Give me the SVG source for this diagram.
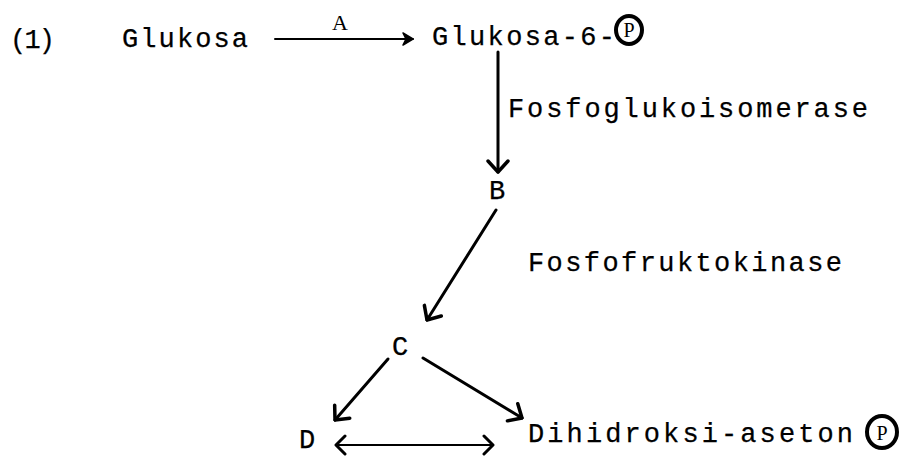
<svg xmlns="http://www.w3.org/2000/svg" width="903" height="457" viewBox="0 0 903 457">
<style>
  .t { font-family: "Liberation Mono", "Courier New", monospace; font-size: 27px; fill: #000; stroke: #000; stroke-width: 0.25; }
  .s { font-family: "Liberation Serif", "Times New Roman", serif; font-size: 22px; fill: #000; }
  .p { font-family: "Liberation Serif", serif; font-size: 20px; fill: #000; }
  .ln { stroke: #000; stroke-width: 3; fill: none; stroke-linecap: round; }
  .thin { stroke: #000; stroke-width: 2; fill: none; stroke-linecap: round; }
  .circ { fill: none; stroke: #000; stroke-width: 4; }
</style>
<defs>
  <marker id="chev" viewBox="-14 -14 16 28" refX="0" refY="0" markerWidth="16" markerHeight="28" markerUnits="userSpaceOnUse" orient="auto">
    <path d="M-11,-10 L0,0 L-11,10" fill="none" stroke="#000" stroke-width="3.5" stroke-linecap="round" stroke-linejoin="round"/>
  </marker>
  <marker id="chevs" viewBox="-12 -12 14 24" refX="0" refY="0" markerWidth="14" markerHeight="24" markerUnits="userSpaceOnUse" orient="auto-start-reverse">
    <path d="M-9,-9 L0,0 L-9,9" fill="none" stroke="#000" stroke-width="3" stroke-linecap="round" stroke-linejoin="round"/>
  </marker>
  <marker id="fill" viewBox="-12 -8 14 16" refX="0" refY="0" markerWidth="14" markerHeight="16" markerUnits="userSpaceOnUse" orient="auto">
    <path d="M-10,-6 L0,0 L-10,6 L-7,0 Z" fill="#000" stroke="#000" stroke-width="1.5" stroke-linejoin="round"/>
  </marker>
</defs>

<g id="label-1"><text class="t" x="10" y="48" textLength="45" lengthAdjust="spacing">(1)</text></g>
<g id="glukosa"><text class="t" x="122" y="47" textLength="126" lengthAdjust="spacing">Glukosa</text></g>
<g id="glukosa-6-p">
  <text class="t" x="432" y="45" textLength="183" lengthAdjust="spacing">Glukosa-6-</text>
  <ellipse class="circ" cx="629" cy="30" rx="13" ry="14"/>
  <text class="p" x="629" y="37" text-anchor="middle">P</text>
</g>
<g id="node-b"><text class="t" x="497" y="199" text-anchor="middle">B</text></g>
<g id="node-c"><text class="t" x="400" y="355" text-anchor="middle">C</text></g>
<g id="node-d"><text class="t" x="307" y="448" text-anchor="middle">D</text></g>
<g id="dihidroksi-aseton-p">
  <text class="t" x="528" y="442" textLength="325" lengthAdjust="spacing">Dihidroksi-aseton</text>
  <ellipse class="circ" cx="882" cy="432" rx="15" ry="16"/>
  <text class="p" x="882" y="440" text-anchor="middle" font-size="22">P</text>
</g>

<g id="connectors">
  <path class="thin" d="M275,39 L413,39" marker-end="url(#fill)"/>
  <text class="s" x="340" y="30" text-anchor="middle">A</text>
  <path class="ln" d="M498,52 L498,172" marker-end="url(#chev)"/>
  <text class="t" x="508" y="117" textLength="360" lengthAdjust="spacing">Fosfoglukoisomerase</text>
  <path class="ln" d="M496,210 L427,320" marker-end="url(#chev)"/>
  <text class="t" x="528" y="271" textLength="314" lengthAdjust="spacing">Fosfofruktokinase</text>
  <path class="ln" d="M388,359 L335,420" marker-end="url(#chev)"/>
  <path class="ln" d="M423,358 L522,418" marker-end="url(#chev)"/>
  <path class="thin" d="M336,445 L493,445" marker-start="url(#chevs)" marker-end="url(#chevs)"/>
</g>
</svg>
